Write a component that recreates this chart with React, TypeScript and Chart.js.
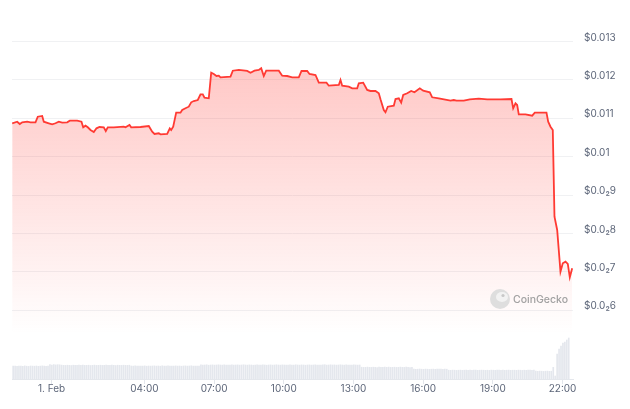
import React, { useEffect, useRef } from 'react';
import { Chart, registerables } from 'chart.js';

Chart.register(...registerables);

// Hours relative to 1 Feb 00:00
const PRICE_HOURS = [
  -1.692, -1.477, -1.365, -1.261, -1.046, -0.904, -0.689, -0.59, -0.4, -0.331,
  -0.116, 0.03, 0.172, 0.314, 0.461, 0.676, 0.788, 1.106, 1.291, 1.365,
  1.464, 1.563, 1.679, 1.821, 1.937, 2.066, 2.251, 2.337, 2.424, 2.682,
  3.112, 3.186, 3.358, 3.431, 3.831, 4.189, 4.335, 4.434, 4.619, 4.692,
  4.981, 5.093, 5.153, 5.239, 5.368, 5.553, 5.626, 5.768, 5.91, 6.014,
  6.126, 6.298, 6.414, 6.513, 6.586, 6.771, 6.875, 6.987, 7.103, 7.202,
  7.275, 7.706, 7.805, 8.063, 8.425, 8.567, 8.739, 8.924, 9.027, 9.139,
  9.242, 9.501, 9.785, 9.931, 10.146, 10.362, 10.646, 10.762, 11.007, 11.106,
  11.365, 11.507, 11.838, 11.937, 12.368, 12.441, 12.514, 12.798, 12.945, 13.16,
  13.229, 13.418, 13.59, 13.732, 13.947, 14.09, 14.163, 14.305, 14.378, 14.477,
  14.736, 14.809, 14.951, 15.054, 15.14, 15.312, 15.484, 15.626, 15.855, 16.001,
  16.285, 16.388, 16.672, 17.176, 17.318, 17.434, 17.749, 18.007, 18.394, 18.756,
  19.328, 19.802, 19.875, 19.974, 20.047, 20.116, 20.405, 20.693, 20.805, 21.05,
  21.308, 21.382, 21.481, 21.58, 21.653, 21.769, 21.911, 22.01, 22.127, 22.226,
  22.312, 22.415,
];

const PRICE_VALUES = [
  0.010873, 0.010914, 0.010854, 0.010899, 0.010914, 0.010899, 0.010899, 0.011044, 0.011063, 0.010914,
  0.010873, 0.010847, 0.010873, 0.010914, 0.01089, 0.010899, 0.01094, 0.01094, 0.010914, 0.010768,
  0.01081, 0.010768, 0.010698, 0.010646, 0.010742, 0.010776, 0.010768, 0.010672, 0.010768, 0.010768,
  0.010784, 0.010768, 0.010828, 0.010768, 0.010776, 0.0108, 0.010654, 0.010594, 0.010612, 0.010586,
  0.010594, 0.010742, 0.010698, 0.010784, 0.011149, 0.011149, 0.011219, 0.011263, 0.011305, 0.011419,
  0.011453, 0.011479, 0.011628, 0.011628, 0.011539, 0.011524, 0.01219, 0.012156, 0.012104, 0.012112,
  0.01207, 0.012086, 0.012242, 0.012261, 0.012235, 0.01219, 0.012242, 0.012261, 0.012305, 0.012104,
  0.012242, 0.012242, 0.012242, 0.012112, 0.012104, 0.01207, 0.01207, 0.012235, 0.012235, 0.012156,
  0.01213, 0.01193, 0.01193, 0.011852, 0.01187, 0.012, 0.011852, 0.011826, 0.011784, 0.011784,
  0.011914, 0.01193, 0.01174, 0.011714, 0.011714, 0.011654, 0.011498, 0.011219, 0.011159, 0.011305,
  0.011331, 0.011505, 0.011524, 0.01141, 0.01161, 0.011654, 0.011714, 0.01168, 0.011784, 0.011722,
  0.01168, 0.01155, 0.011524, 0.011461, 0.011479, 0.011461, 0.011461, 0.011498, 0.011513, 0.011498,
  0.011498, 0.011505, 0.011263, 0.011393, 0.011349, 0.011107, 0.011107, 0.011071, 0.011149, 0.011149,
  0.011149, 0.010914, 0.010784, 0.010698, 0.00844, 0.008094, 0.007008, 0.007227, 0.007269, 0.007209,
  0.006862, 0.007097,
];

// 5-minute volume bars (relative units)
const VOLUME = [
  12.8, 13.0, 12.6, 13.0, 12.9, 12.7, 13.1, 12.8, 12.6, 13.0, 12.9, 12.8, 13.0, 12.7, 12.9, 13.1, 12.8, 12.6, 13.0, 14.3, 14.0, 14.4, 14.1, 14.3,
  14.2, 13.9, 13.7, 13.6, 13.8, 13.7, 13.5, 13.8, 13.7, 13.6, 13.9, 13.7, 13.8, 13.6, 13.7, 13.8, 13.5, 13.7, 13.9, 13.6, 13.7, 13.8, 13.6, 13.7,
  13.8, 13.6, 13.7, 13.9, 13.7, 13.5, 13.8, 13.7, 13.6, 13.8, 13.7, 13.6, 13.8, 13.0, 12.9, 13.1, 12.8, 13.0, 13.0, 12.9, 13.1, 12.8, 13.0, 12.9,
  13.0, 13.1, 12.9, 13.0, 12.8, 13.2, 13.0, 12.9, 13.1, 13.0, 12.8, 13.0, 13.1, 12.9, 13.0, 12.8, 13.0, 13.1, 12.9, 13.0, 13.2, 12.9, 13.0, 12.8,
  13.0, 14.1, 13.9, 14.0, 14.2, 13.8, 14.0, 14.1, 13.9, 14.0, 14.2, 14.0, 13.9, 14.1, 14.0, 13.8, 14.0, 14.2, 13.9, 14.0, 14.1, 13.9, 14.0, 14.2,
  14.0, 13.9, 14.1, 14.0, 13.8, 14.0, 14.2, 13.9, 14.0, 14.1, 14.0, 13.8, 14.0, 14.1, 13.9, 14.0, 14.2, 14.0, 13.9, 14.1, 14.0, 13.8, 14.0, 14.1,
  13.9, 14.0, 14.2, 14.0, 13.9, 14.1, 14.0, 13.8, 14.0, 14.1, 13.9, 14.0, 14.2, 14.0, 13.9, 14.0, 14.1, 14.3, 13.9, 14.0, 14.2, 14.0, 14.1, 13.9,
  14.0, 14.2, 14.0, 13.9, 14.1, 14.0, 13.8, 14.0, 14.1, 14.0, 13.9, 14.0, 11.8, 11.6, 11.7, 11.9, 11.7, 11.6, 11.8, 11.7, 11.5, 11.8, 11.7, 11.6,
  11.8, 11.7, 11.9, 11.6, 11.7, 11.8, 11.6, 11.7, 11.9, 11.7, 11.6, 11.8, 11.7, 11.5, 11.7, 9.9, 9.7, 9.8, 10.0, 9.8, 9.7, 9.9, 9.8, 9.6,
  9.8, 9.9, 9.7, 9.8, 10.0, 9.8, 9.7, 9.9, 9.8, 8.8, 8.7, 8.9, 8.8, 8.6, 8.8, 8.9, 8.7, 8.8, 8.9, 8.7, 8.8, 8.6, 8.8, 8.9,
  8.7, 8.8, 8.9, 8.8, 8.7, 8.8, 8.6, 8.9, 8.8, 8.7, 8.8, 8.9, 8.7, 8.8, 8.6, 8.8, 8.9, 8.7, 8.8, 8.8, 8.7, 8.9, 8.8, 8.6,
  8.8, 8.7, 8.9, 8.8, 8.7, 8.8, 7.8, 7.7, 7.9, 7.8, 7.6, 7.8, 7.9, 7.7, 7.8, 11.7, 3.0, 25, 30, 33, 36, 37, 39, 41,
];
const VOLUME_START_HOUR = -1.65;
const VOLUME_STEP_HOURS = 1 / 12;

const X_TICKS = [0, 4, 7, 10, 13, 16, 19, 22];
const X_LABELS = ['1. Feb', '04:00', '07:00', '10:00', '13:00', '16:00', '19:00', '22:00'];

const Y_TICKS = [0.006, 0.007, 0.008, 0.009, 0.01, 0.011, 0.012, 0.013];
const Y_LABELS = ['$0.0₂6', '$0.0₂7', '$0.0₂8', '$0.0₂9', '$0.01', '$0.011', '$0.012', '$0.013'];

const LABEL_COLOR = '#5d6679';
const FONT = 'Inter';

export default function App() {
  const ref = useRef<HTMLCanvasElement>(null);

  useEffect(() => {
    document.body.style.margin = '0';
    const canvas = ref.current;
    if (!canvas) return;

    const watermark = {
      id: 'watermark',
      afterDatasetsDraw(chart: any) {
        const c = chart.ctx;
        c.save();
        c.fillStyle = '#dedede';
        c.beginPath();
        c.arc(500, 299, 10, 0, Math.PI * 2);
        c.fill();
        c.fillStyle = '#f2f2f2';
        c.beginPath();
        c.ellipse(502, 297, 6, 5, 0, 0, Math.PI * 2);
        c.fill();
        c.fillStyle = '#c8c8c8';
        c.beginPath();
        c.arc(503, 295.5, 1.6, 0, Math.PI * 2);
        c.fill();
        c.fillStyle = '#a0a0a0';
        c.font = `500 10.5px ${FONT}`;
        c.textBaseline = 'middle';
        c.fillText('CoinGecko', 513, 299.5);
        c.restore();
      },
    };

    const chart = new Chart(canvas, {
      type: 'line',
      data: {
        datasets: [
          {
            type: 'line',
            data: PRICE_HOURS.map((h, i) => ({ x: h, y: PRICE_VALUES[i] })),
            yAxisID: 'y',
            xAxisID: 'x',
            borderColor: '#ff3a33',
            borderWidth: 1.8,
            pointRadius: 0,
            tension: 0,
            fill: 'start',
            backgroundColor: (ctx: any) => {
              const a = ctx.chart.chartArea;
              if (!a) return 'rgba(255,58,51,0.2)';
              const g = ctx.chart.ctx.createLinearGradient(0, a.top, 0, a.bottom - 45);
              g.addColorStop(0, 'rgba(255,58,51,0.33)');
              g.addColorStop(1, 'rgba(255,58,51,0)');
              return g;
            },
            order: 1,
          },
          {
            type: 'bar',
            data: VOLUME.map((v, i) => ({ x: VOLUME_START_HOUR + i * VOLUME_STEP_HOURS, y: v })),
            yAxisID: 'yVol',
            xAxisID: 'x',
            backgroundColor: '#e4e7ed',
            barThickness: 1,
            order: 2,
          } as any,
        ],
      },
      options: {
        responsive: false,
        animation: false,
        devicePixelRatio: 1,
        layout: { padding: { top: 20, left: 12, right: 0, bottom: 0 } },
        plugins: { legend: { display: false }, tooltip: { enabled: false } },
        scales: {
          x: {
            type: 'linear',
            offset: false,
            min: -1.7,
            max: 22.45,
            afterBuildTicks: (s: any) => {
              s.ticks = X_TICKS.map((v) => ({ value: v }));
            },
            afterFit: (s: any) => {
              s.height = 30;
            },
            ticks: {
              callback: (v: any) => X_LABELS[X_TICKS.indexOf(Number(v))],
              color: LABEL_COLOR,
              font: { family: FONT, size: 10, lineHeight: 1 },
              padding: 0,
              maxRotation: 0,
              autoSkip: false,
            },
            grid: { offset: false, drawOnChartArea: false, drawTicks: true, tickLength: 5, color: '#e4e7ec' },
            border: { display: true, color: '#e4e7ec' },
          },
          y: {
            position: 'right',
            min: 0.0042135,
            max: 0.0135625,
            afterBuildTicks: (s: any) => {
              s.ticks = Y_TICKS.map((v) => ({ value: v }));
            },
            afterFit: (s: any) => {
              s.width = 57;
            },
            ticks: {
              callback: (v: any) => Y_LABELS[Y_TICKS.indexOf(Number(v))],
              color: LABEL_COLOR,
              font: { family: FONT, size: 10 },
              padding: 11,
              labelOffset: -4,
            },
            grid: { color: '#f0f1f3', drawTicks: false },
            border: { display: false },
          },
          yVol: {
            display: false,
            min: 0,
            max: 359,
          },
        },
      },
      plugins: [watermark],
    } as any);

    return () => chart.destroy();
  }, []);

  return <canvas ref={ref} width={630} height={409} style={{ display: 'block' }} />;
}
